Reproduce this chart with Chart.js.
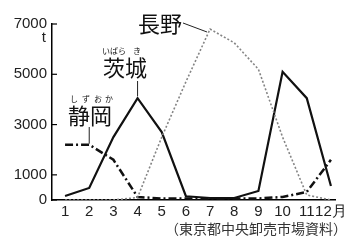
<!DOCTYPE html>
<html>
<head>
<meta charset="utf-8">
<script src="https://cdn.jsdelivr.net/npm/chart.js@4/dist/chart.umd.min.js"></script>
<style>
  html, body { margin: 0; padding: 0; background: #fff; }
  canvas { display: block; }
</style>
</head>
<body>
<canvas id="chart" width="350" height="247"></canvas>
<script>
const months = [1, 2, 3, 4, 5, 6, 7, 8, 9, 10, 11, 12];
const yTicks = [0, 1000, 3000, 5000, 7000];

// t per month
const ibaraki = [160, 480, 2500, 4050, 2700, 150, 80, 80, 360, 5100, 4050, 560];
const shizuoka = [2200, 2200, 1600, 120, 60, 60, 60, 60, 60, 120, 320, 1600];
const nagano = [0, 0, 0, 100, 2500, 4700, 6800, 6250, 5200, 2500, 200, 0];

const numFont = "'Liberation Sans', Arial, sans-serif";
const jpFont = "'Noto Sans CJK JP', sans-serif";

const points = (vals) => months.map((m, i) => ({ x: m, y: vals[i] }));

// Labels, readings and leader lines drawn on top of the plot.
const notes = {
    id: 'notes',
    afterDraw(chart) {
        const { ctx, scales: { x, y } } = chart;
        const px = (m) => x.getPixelForValue(m);
        const py = (v) => y.getPixelForValue(v);
        ctx.save();

        // inside ticks on the y axis
        ctx.strokeStyle = '#000';
        ctx.lineWidth = 1.2;
        yTicks.forEach((v) => {
            ctx.beginPath();
            ctx.moveTo(x.left, py(v));
            ctx.lineTo(x.left + 5, py(v));
            ctx.stroke();
        });

        ctx.fillStyle = '#222';
        ctx.font = '15px ' + numFont;
        ctx.textAlign = 'right';
        ctx.textBaseline = 'middle';
        ctx.fillText('t', 46, 38);

        // series names
        ctx.fillStyle = '#111';
        ctx.textAlign = 'center';
        ctx.font = '22px ' + jpFont;
        ctx.fillText('長野', 160, 24);
        ctx.fillText('茨城', 125, 68);
        ctx.fillText('静岡', 90, 116);

        // readings
        ctx.font = '8px ' + jpFont;
        [['い', 106], ['ば', 114], ['ら', 122], ['き', 137]].forEach(([c, cx]) => ctx.fillText(c, cx, 51));
        [['し', 74], ['ず', 86], ['お', 98], ['か', 109]].forEach(([c, cx]) => ctx.fillText(c, cx, 99));

        // leader lines
        ctx.strokeStyle = '#222';
        ctx.lineWidth = 1;
        ctx.beginPath();
        ctx.moveTo(183, 23);
        ctx.lineTo(px(7) - 3, py(6800) + 3);
        ctx.moveTo(px(4), 81);
        ctx.lineTo(px(4), py(4050) - 2);
        ctx.moveTo(px(2), 127);
        ctx.lineTo(px(2), py(2200) - 1);
        ctx.stroke();

        // source
        ctx.fillStyle = '#333';
        ctx.font = '14px ' + jpFont;
        ctx.textAlign = 'right';
        ctx.fillText('（東京都中央卸売市場資料）', 347, 229);
        ctx.restore();
    },
};

new Chart(document.getElementById('chart'), {
    type: 'line',
    data: {
        datasets: [
            {
                data: points(nagano),
                borderColor: '#858585',
                borderWidth: 1.6,
                borderDash: [2, 2],
            },
            {
                data: points(shizuoka),
                borderColor: '#111',
                borderWidth: 2.5,
                borderDash: [8, 3, 2, 3],
            },
            {
                data: points(ibaraki),
                borderColor: '#111',
                borderWidth: 2.2,
            },
        ],
    },
    options: {
        responsive: false,
        animation: false,
        devicePixelRatio: 1,
        layout: { padding: { top: 24, right: 13, left: 0, bottom: 0 } },
        elements: { point: { radius: 0 }, line: { tension: 0 } },
        plugins: { legend: { display: false }, tooltip: { enabled: false } },
        scales: {
            x: {
                type: 'linear',
                min: 0.46,
                max: 12.2,
                afterBuildTicks: (s) => { s.ticks = months.map((m) => ({ value: m })); },
                afterFit: (s) => { s.height = 47; },
                grid: { display: false, drawTicks: false },
                border: { display: true, color: '#000', width: 1.5 },
                ticks: {
                    padding: 3,
                    maxRotation: 0,
                    autoSkip: false,
                    color: '#222',
                    font: { family: numFont, size: 15 },
                    callback: (v) => (v === 12 ? '12月' : String(v)),
                },
            },
            y: {
                min: 0,
                max: 7000,
                afterBuildTicks: (s) => { s.ticks = yTicks.map((v) => ({ value: v })); },
                afterFit: (s) => { s.width = 52; },
                grid: { display: false, drawTicks: false },
                border: { display: true, color: '#000', width: 1.5 },
                ticks: {
                    padding: 5,
                    color: '#222',
                    font: { family: numFont, size: 15 },
                    callback: (v) => String(v),
                },
            },
        },
    },
    plugins: [notes],
});
</script>
</body>
</html>
